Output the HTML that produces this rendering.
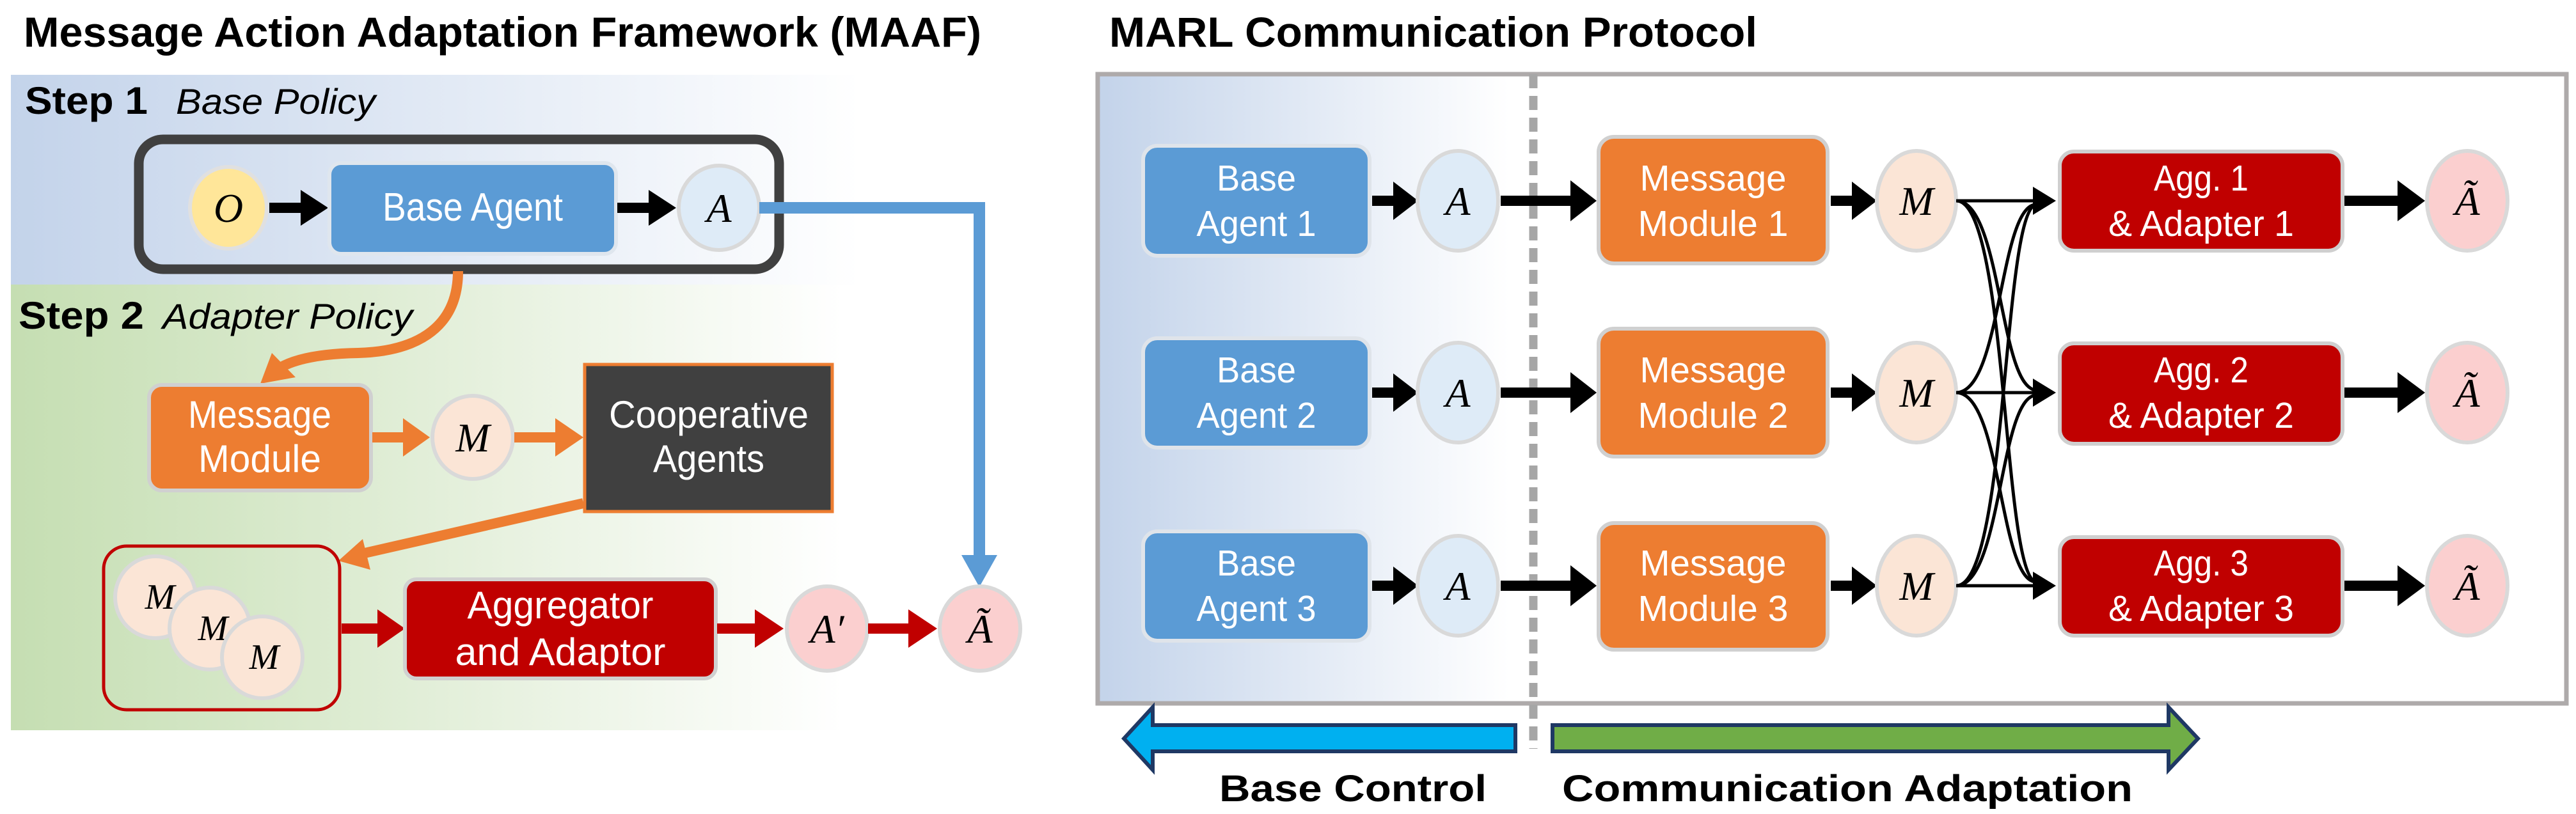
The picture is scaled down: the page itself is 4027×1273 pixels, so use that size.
<!DOCTYPE html>
<html><head><meta charset="utf-8"><style>html,body{margin:0;padding:0;background:#fff}svg{display:block}text.m{font-family:"Liberation Serif",serif;font-style:italic;font-size:64px}</style></head>
<body>
<svg width="4027" height="1273" viewBox="0 0 4027 1273" xmlns="http://www.w3.org/2000/svg">
<defs>
<linearGradient id="gb" x1="0" x2="1" y1="0" y2="0"><stop offset="0" stop-color="#c3d3ea"/><stop offset="1" stop-color="#ffffff"/></linearGradient>
<linearGradient id="gg" x1="0" x2="1" y1="0" y2="0"><stop offset="0" stop-color="#c5deb2"/><stop offset="1" stop-color="#ffffff"/></linearGradient>
<linearGradient id="gr" x1="0" x2="1" y1="0" y2="0"><stop offset="0" stop-color="#c3d3ea"/><stop offset="0.7" stop-color="#ffffff"/><stop offset="1" stop-color="#ffffff"/></linearGradient>
</defs>
<g font-family="Liberation Sans, sans-serif">
<!-- LEFT -->
<text x="37" y="73" font-size="66" font-weight="bold" textLength="1497" lengthAdjust="spacingAndGlyphs">Message Action Adaptation Framework (MAAF)</text>
<rect x="17" y="117" width="1327" height="328" fill="url(#gb)"/>
<rect x="17" y="445" width="1300" height="697" fill="url(#gg)"/>
<text x="39" y="178" font-size="60" font-weight="bold" textLength="192" lengthAdjust="spacingAndGlyphs">Step 1</text>
<text x="275" y="178" font-size="56" font-style="italic" textLength="312" lengthAdjust="spacingAndGlyphs">Base Policy</text>
<text x="29" y="514" font-size="60" font-weight="bold" textLength="196" lengthAdjust="spacingAndGlyphs">Step 2</text>
<text x="254" y="514" font-size="56" font-style="italic" textLength="391" lengthAdjust="spacingAndGlyphs">Adapter Policy</text>
<rect x="217" y="218" width="1001" height="203" rx="38" fill="none" stroke="#404040" stroke-width="15"/>
<ellipse cx="357" cy="325" rx="60" ry="64" fill="#ffe699" stroke="#e0e0e0" stroke-width="6"/>
<text class="m" x="357" y="347" text-anchor="middle">O</text>
<rect x="421" y="317" width="52" height="16" fill="#000"/><polygon points="470,297 513,325 470,353" fill="#000"/>
<rect x="515" y="255" width="448" height="142" rx="18" fill="#5b9bd5" stroke="#dfe6ee" stroke-width="6"/>
<text x="739" y="345" font-size="62" fill="#fff" text-anchor="middle" textLength="282" lengthAdjust="spacingAndGlyphs">Base Agent</text>
<rect x="965" y="317" width="52" height="16" fill="#000"/><polygon points="1014,297 1057,325 1014,353" fill="#000"/>
<ellipse cx="1124" cy="325" rx="63" ry="66" fill="#deebf7" stroke="#d9d9d9" stroke-width="6"/>
<text class="m" x="1124" y="347" text-anchor="middle">A</text>
<polyline points="1187,325 1531,325 1531,872" fill="none" stroke="#5b9bd5" stroke-width="18"/>
<polygon points="1503,868 1559,868 1531,918" fill="#5b9bd5"/>
<path d="M716,424 C716,520 640,550 560,552 C500,553 460,562 438,575" fill="none" stroke="#ed7d31" stroke-width="16"/>
<polygon points="407,600 425,552 462,590" fill="#ed7d31"/>
<rect x="233" y="602" width="347" height="165" rx="20" fill="#ed7d31" stroke="#d0d0d0" stroke-width="6"/>
<text x="406" y="669" font-size="60" fill="#fff" text-anchor="middle" textLength="224" lengthAdjust="spacingAndGlyphs">Message</text>
<text x="406" y="738" font-size="60" fill="#fff" text-anchor="middle" textLength="192" lengthAdjust="spacingAndGlyphs">Module</text>
<rect x="582" y="676" width="52" height="16" fill="#ed7d31"/><polygon points="630,654 672,684 630,714" fill="#ed7d31"/>
<ellipse cx="739" cy="684" rx="63" ry="65" fill="#fbe5d6" stroke="#d9d9d9" stroke-width="6"/>
<text class="m" x="739" y="706" text-anchor="middle">M</text>
<rect x="804" y="676" width="66" height="16" fill="#ed7d31"/><polygon points="868,654 912,684 868,714" fill="#ed7d31"/>
<rect x="914" y="570" width="387" height="230" fill="#404040" stroke="#ed7d31" stroke-width="5"/>
<text x="1108" y="669" font-size="60" fill="#fff" text-anchor="middle" textLength="312" lengthAdjust="spacingAndGlyphs">Cooperative</text>
<text x="1108" y="738" font-size="60" fill="#fff" text-anchor="middle" textLength="174" lengthAdjust="spacingAndGlyphs">Agents</text>
<line x1="912" y1="787" x2="570" y2="865" stroke="#ed7d31" stroke-width="16"/>
<polygon points="529,877 567,843 579,891" fill="#ed7d31"/>
<rect x="162" y="854" width="369" height="256" rx="36" fill="none" stroke="#c00000" stroke-width="5"/>
<ellipse cx="243" cy="934" rx="63" ry="64" fill="#fbe5d6" stroke="#d9d9d9" stroke-width="6"/>
<text class="m" x="250" y="952" text-anchor="middle" style="font-size:56px">M</text>
<ellipse cx="328" cy="983" rx="63" ry="64" fill="#fbe5d6" stroke="#d9d9d9" stroke-width="6"/>
<text class="m" x="333" y="1001" text-anchor="middle" style="font-size:56px">M</text>
<ellipse cx="410" cy="1028" rx="63" ry="64" fill="#fbe5d6" stroke="#d9d9d9" stroke-width="6"/>
<text class="m" x="413" y="1046" text-anchor="middle" style="font-size:56px">M</text>
<rect x="534" y="975" width="58" height="16" fill="#c00000"/><polygon points="590,953 633,983 590,1013" fill="#c00000"/>
<rect x="633" y="906" width="486" height="155" rx="18" fill="#c00000" stroke="#d0d0d0" stroke-width="6"/>
<text x="876" y="967" font-size="60" fill="#fff" text-anchor="middle" textLength="291" lengthAdjust="spacingAndGlyphs">Aggregator</text>
<text x="876" y="1040" font-size="60" fill="#fff" text-anchor="middle" textLength="329" lengthAdjust="spacingAndGlyphs">and Adaptor</text>
<rect x="1121" y="975" width="62" height="16" fill="#c00000"/><polygon points="1180,953 1225,983 1180,1013" fill="#c00000"/>
<ellipse cx="1293" cy="983" rx="63" ry="66" fill="#fbcfcf" stroke="#d9d9d9" stroke-width="6"/>
<text class="m" x="1293" y="1005" text-anchor="middle">A′</text>
<rect x="1357" y="975" width="66" height="16" fill="#c00000"/><polygon points="1420,953 1465,983 1420,1013" fill="#c00000"/>
<ellipse cx="1532" cy="983" rx="63" ry="66" fill="#fbcfcf" stroke="#d9d9d9" stroke-width="6"/>
<text class="m" x="1532" y="1005" text-anchor="middle">Ã</text>

<!-- RIGHT -->
<text x="1734" y="73" font-size="66" font-weight="bold" textLength="1013" lengthAdjust="spacingAndGlyphs">MARL Communication Protocol</text>
<rect x="1716" y="116" width="920" height="984" fill="url(#gr)"/>
<rect x="1716" y="116" width="2296" height="984" fill="none" stroke="#aeaaaa" stroke-width="7"/>
<line x1="2397" y1="116" x2="2397" y2="1171" stroke="#a6a6a6" stroke-width="13" stroke-dasharray="22,12"/>

<!-- Row 1 -->
<rect x="1787" y="228" width="354" height="172" rx="22" fill="#5b9bd5" stroke="#dfe4ea" stroke-width="6"/>
<text x="1964" y="298" font-size="57" fill="#fff" text-anchor="middle" textLength="124" lengthAdjust="spacingAndGlyphs">Base</text>
<text x="1964" y="369" font-size="57" fill="#fff" text-anchor="middle" textLength="187" lengthAdjust="spacingAndGlyphs">Agent 1</text>
<rect x="2145" y="306" width="36" height="16" fill="#000"/><polygon points="2178,284 2217,314 2178,344" fill="#000"/>
<ellipse cx="2279" cy="314" rx="63" ry="78" fill="#deebf7" stroke="#d9d9d9" stroke-width="6"/>
<text class="m" x="2279" y="336" text-anchor="middle">A</text>
<rect x="2346" y="306" width="112" height="16" fill="#000"/><polygon points="2455,282 2496,314 2455,346" fill="#000"/>
<rect x="2499" y="214" width="358" height="198" rx="24" fill="#ed7d31" stroke="#d0d0d0" stroke-width="6"/>
<text x="2678" y="298" font-size="57" fill="#fff" text-anchor="middle" textLength="229" lengthAdjust="spacingAndGlyphs">Message</text>
<text x="2678" y="369" font-size="57" fill="#fff" text-anchor="middle" textLength="235" lengthAdjust="spacingAndGlyphs">Module 1</text>
<rect x="2862" y="306" width="36" height="16" fill="#000"/><polygon points="2895,284 2934,314 2895,344" fill="#000"/>
<ellipse cx="2996" cy="314" rx="62" ry="78" fill="#fbe5d6" stroke="#d9d9d9" stroke-width="6"/>
<text class="m" x="2996" y="336" text-anchor="middle">M</text>
<rect x="3220" y="237" width="442" height="155" rx="22" fill="#c00000" stroke="#cfcfcf" stroke-width="6"/>
<text x="3441" y="298" font-size="57" fill="#fff" text-anchor="middle" textLength="148" lengthAdjust="spacingAndGlyphs">Agg. 1</text>
<text x="3441" y="369" font-size="57" fill="#fff" text-anchor="middle" textLength="290" lengthAdjust="spacingAndGlyphs">&amp; Adapter 1</text>
<rect x="3665" y="306" width="86" height="16" fill="#000"/><polygon points="3748,282 3791,314 3748,346" fill="#000"/>
<ellipse cx="3857" cy="314" rx="63" ry="78" fill="#fbcfcf" stroke="#d9d9d9" stroke-width="6"/>
<text class="m" x="3857" y="336" text-anchor="middle">Ã</text>

<!-- Row 2 -->
<rect x="1787" y="529" width="354" height="171" rx="22" fill="#5b9bd5" stroke="#dfe4ea" stroke-width="6"/>
<text x="1964" y="598" font-size="57" fill="#fff" text-anchor="middle" textLength="124" lengthAdjust="spacingAndGlyphs">Base</text>
<text x="1964" y="669" font-size="57" fill="#fff" text-anchor="middle" textLength="187" lengthAdjust="spacingAndGlyphs">Agent 2</text>
<rect x="2145" y="606" width="36" height="16" fill="#000"/><polygon points="2178,584 2217,614 2178,644" fill="#000"/>
<ellipse cx="2279" cy="614" rx="63" ry="78" fill="#deebf7" stroke="#d9d9d9" stroke-width="6"/>
<text class="m" x="2279" y="636" text-anchor="middle">A</text>
<rect x="2346" y="606" width="112" height="16" fill="#000"/><polygon points="2455,582 2496,614 2455,646" fill="#000"/>
<rect x="2499" y="514" width="358" height="200" rx="24" fill="#ed7d31" stroke="#d0d0d0" stroke-width="6"/>
<text x="2678" y="598" font-size="57" fill="#fff" text-anchor="middle" textLength="229" lengthAdjust="spacingAndGlyphs">Message</text>
<text x="2678" y="669" font-size="57" fill="#fff" text-anchor="middle" textLength="235" lengthAdjust="spacingAndGlyphs">Module 2</text>
<rect x="2862" y="606" width="36" height="16" fill="#000"/><polygon points="2895,584 2934,614 2895,644" fill="#000"/>
<ellipse cx="2996" cy="614" rx="62" ry="78" fill="#fbe5d6" stroke="#d9d9d9" stroke-width="6"/>
<text class="m" x="2996" y="636" text-anchor="middle">M</text>
<rect x="3220" y="537" width="442" height="157" rx="22" fill="#c00000" stroke="#cfcfcf" stroke-width="6"/>
<text x="3441" y="598" font-size="57" fill="#fff" text-anchor="middle" textLength="148" lengthAdjust="spacingAndGlyphs">Agg. 2</text>
<text x="3441" y="669" font-size="57" fill="#fff" text-anchor="middle" textLength="290" lengthAdjust="spacingAndGlyphs">&amp; Adapter 2</text>
<rect x="3665" y="606" width="86" height="16" fill="#000"/><polygon points="3748,582 3791,614 3748,646" fill="#000"/>
<ellipse cx="3857" cy="614" rx="63" ry="78" fill="#fbcfcf" stroke="#d9d9d9" stroke-width="6"/>
<text class="m" x="3857" y="636" text-anchor="middle">Ã</text>

<!-- Row 3 -->
<rect x="1787" y="831" width="354" height="171" rx="22" fill="#5b9bd5" stroke="#dfe4ea" stroke-width="6"/>
<text x="1964" y="900" font-size="57" fill="#fff" text-anchor="middle" textLength="124" lengthAdjust="spacingAndGlyphs">Base</text>
<text x="1964" y="971" font-size="57" fill="#fff" text-anchor="middle" textLength="187" lengthAdjust="spacingAndGlyphs">Agent 3</text>
<rect x="2145" y="908" width="36" height="16" fill="#000"/><polygon points="2178,886 2217,916 2178,946" fill="#000"/>
<ellipse cx="2279" cy="916" rx="63" ry="78" fill="#deebf7" stroke="#d9d9d9" stroke-width="6"/>
<text class="m" x="2279" y="938" text-anchor="middle">A</text>
<rect x="2346" y="908" width="112" height="16" fill="#000"/><polygon points="2455,884 2496,916 2455,948" fill="#000"/>
<rect x="2499" y="818" width="358" height="198" rx="24" fill="#ed7d31" stroke="#d0d0d0" stroke-width="6"/>
<text x="2678" y="900" font-size="57" fill="#fff" text-anchor="middle" textLength="229" lengthAdjust="spacingAndGlyphs">Message</text>
<text x="2678" y="971" font-size="57" fill="#fff" text-anchor="middle" textLength="235" lengthAdjust="spacingAndGlyphs">Module 3</text>
<rect x="2862" y="908" width="36" height="16" fill="#000"/><polygon points="2895,886 2934,916 2895,946" fill="#000"/>
<ellipse cx="2996" cy="916" rx="62" ry="78" fill="#fbe5d6" stroke="#d9d9d9" stroke-width="6"/>
<text class="m" x="2996" y="938" text-anchor="middle">M</text>
<rect x="3220" y="840" width="442" height="154" rx="22" fill="#c00000" stroke="#cfcfcf" stroke-width="6"/>
<text x="3441" y="900" font-size="57" fill="#fff" text-anchor="middle" textLength="148" lengthAdjust="spacingAndGlyphs">Agg. 3</text>
<text x="3441" y="971" font-size="57" fill="#fff" text-anchor="middle" textLength="290" lengthAdjust="spacingAndGlyphs">&amp; Adapter 3</text>
<rect x="3665" y="908" width="86" height="16" fill="#000"/><polygon points="3748,884 3791,916 3748,948" fill="#000"/>
<ellipse cx="3857" cy="916" rx="63" ry="78" fill="#fbcfcf" stroke="#d9d9d9" stroke-width="6"/>
<text class="m" x="3857" y="938" text-anchor="middle">Ã</text>

<g fill="none" stroke="#000" stroke-width="5">
<path d="M3058,314 L3185,314"/>
<path d="M3058,314 C3130,314 3125,614 3185,610"/>
<path d="M3058,314 C3140,314 3130,916 3185,910"/>
<path d="M3058,614 C3130,614 3125,314 3185,320"/>
<path d="M3058,614 L3185,614"/>
<path d="M3058,614 C3130,614 3125,916 3185,910"/>
<path d="M3058,916 C3140,916 3130,314 3185,320"/>
<path d="M3058,916 C3130,916 3125,614 3185,618"/>
<path d="M3058,916 L3185,916"/>
</g>
<g fill="#000">
<polygon points="3178,292 3214,314 3178,336"/>
<polygon points="3178,592 3214,614 3178,636"/>
<polygon points="3178,894 3214,916 3178,938"/>
</g>

<polygon points="1757,1155 1802,1106 1802,1134 2369,1134 2369,1175 1802,1175 1802,1204" fill="#00b0f0" stroke="#1f3864" stroke-width="6"/>
<polygon points="2427,1134 3390,1134 3390,1106 3436,1155 3390,1204 3390,1175 2427,1175" fill="#70ad47" stroke="#1f3864" stroke-width="6"/>
<text x="1906" y="1253" font-size="58" font-weight="bold" textLength="418" lengthAdjust="spacingAndGlyphs">Base Control</text>
<text x="2442" y="1253" font-size="58" font-weight="bold" textLength="892" lengthAdjust="spacingAndGlyphs">Communication Adaptation</text>
</g>
</svg>
</body></html>
